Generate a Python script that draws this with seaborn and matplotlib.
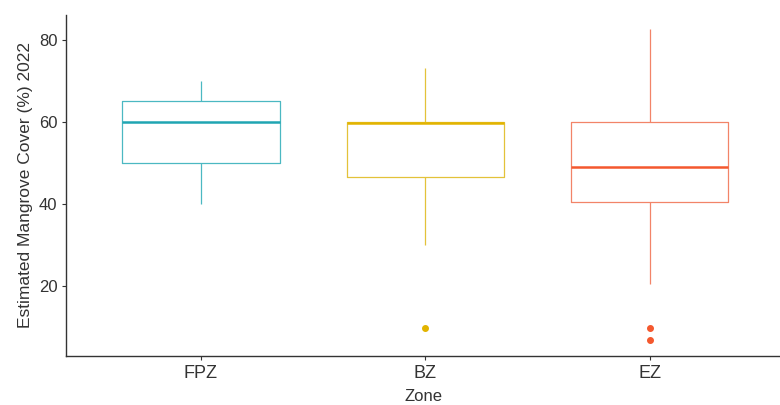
import matplotlib
matplotlib.use("Agg")
import matplotlib.pyplot as plt
import seaborn as sns
import pandas as pd

zones = ["FPZ", "BZ", "EZ"]
colors = ["#4BB8C2", "#E3C23A", "#F28468"]
median_colors = ["#20A5B2", "#E2B400", "#F4582E"]

fpz_values = [40, 50, 60, 65, 70]
bz_values = [10, 30, 46.5, 55, 59.7, 60, 60, 65, 73]
ez_values = [7, 10, 20.5, 40.5, 43, 46, 49, 52, 56, 60, 66, 74, 82.5]

df = pd.DataFrame({
    "Zone": ["FPZ"] * len(fpz_values) + ["BZ"] * len(bz_values) + ["EZ"] * len(ez_values),
    "Cover": fpz_values + bz_values + ez_values,
})

sns.set_theme(style="ticks")
plt.rcParams["font.family"] = ["Liberation Sans", "DejaVu Sans"]
narrow = ["Liberation Sans Narrow", "Liberation Sans", "DejaVu Sans"]

fig = plt.figure(figsize=(7.8, 4.05), dpi=100)
ax = fig.add_axes([0.085, 0.122, 0.915, 0.841])

sns.boxplot(data=df, x="Zone", y="Cover", order=zones, ax=ax, width=0.7,
            fill=False, linewidth=0.9, whis=1.5, showcaps=False)

lines_per_box = len(ax.lines) // 3
for i, col in enumerate(colors):
    grp = ax.lines[i * lines_per_box:(i + 1) * lines_per_box]
    for ln in grp:
        ln.set_color(col)
        ln.set_markerfacecolor(median_colors[i])
        ln.set_markeredgecolor(median_colors[i])
        xd = ln.get_xdata()
        yd = ln.get_ydata()
        if ln.get_linestyle() in ("None", ""):
            ln.set_marker("o")
            ln.set_markersize(4)
        elif len(yd) == 2 and yd[0] == yd[1] and abs(xd[1] - xd[0]) > 0.5:
            ln.set_linewidth(1.8)
            ln.set_color(median_colors[i])
    if len(ax.patches) == 3:
        ax.patches[i].set_edgecolor(col)
        ax.patches[i].set_facecolor("none")

ax.set_xlim(-0.6, 2.58)
ax.set_ylim(3.2, 86)
ax.set_yticks([20, 40, 60, 80])
ax.set_xlabel("Zone", fontsize=12, color="#333333", labelpad=5, family=narrow)
ax.set_ylabel("Estimated Mangrove Cover (%) 2022", fontsize=12.5, color="#333333", labelpad=4)
ax.tick_params(axis="both", labelsize=12, colors="#333333", length=3, width=0.8)
for t in ax.get_xticklabels():
    t.set_family(narrow)
    t.set_fontsize(13)
sns.despine(ax=ax)
for s in ["left", "bottom"]:
    ax.spines[s].set_color("#333333")
    ax.spines[s].set_linewidth(1.0)

fig.savefig("out.png", dpi=100)
